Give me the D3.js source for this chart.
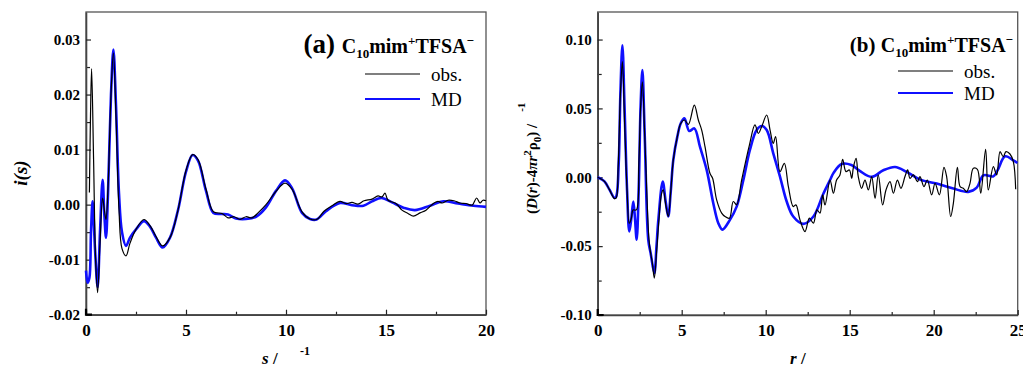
<!DOCTYPE html>
<html>
<head>
<meta charset="utf-8">
<script src="https://cdn.jsdelivr.net/npm/d3@7/dist/d3.min.js"></script>
<style>
  body { margin: 0; background: #fff; }
  svg { display: block; }
  .tick text { font-family: "Liberation Serif", "Times New Roman", serif; font-weight: bold; fill: #000; }
  .lbl { font-family: "Liberation Serif", "Times New Roman", serif; fill: #000; }
</style>
</head>
<body>
<div id="chart"></div>
<script>
// ---- panel (a): i(s) vs s ----
const obsA = [
  [0.17, 0.0022], [0.22, 0.015], [0.28, 0.0247], [0.38, 0.008], [0.48, -0.010], [0.58, -0.016],
  [0.70, -0.007], [0.83, 0.0012], [0.92, -0.001], [1.00, -0.0027], [1.10, 0.003], [1.25, 0.020],
  [1.37, 0.0276], [1.50, 0.016], [1.65, -0.001], [1.80, -0.008], [2.00, -0.0093], [2.20, -0.007],
  [2.50, -0.0045], [2.90, -0.0027], [3.20, -0.0038], [3.50, -0.0058], [3.83, -0.0075], [4.20, -0.006],
  [4.60, -0.001], [5.00, 0.0062], [5.33, 0.0091], [5.60, 0.0082], [6.00, 0.0028], [6.37, -0.0013],
  [6.80, -0.0016], [7.10, -0.0024], [7.40, -0.0022], [7.70, -0.0027], [8.00, -0.0022], [8.30, -0.0024],
  [8.60, -0.0015], [9.00, 0.0000], [9.50, 0.0024], [9.95, 0.0039], [10.30, 0.0028], [10.80, -0.0013],
  [11.20, -0.0026], [11.53, -0.0027], [11.90, -0.0012], [12.30, -0.0002], [12.70, 0.0006], [13.00, 0.0002],
  [13.30, 0.0004], [13.60, 0.0001], [13.90, 0.0007], [14.30, 0.0010], [14.60, 0.0016], [14.80, 0.0014],
  [14.95, 0.0021], [15.10, 0.0008], [15.50, 0.0002], [15.80, -0.0010], [16.10, -0.0016], [16.37, -0.0021],
  [16.70, -0.0015], [17.00, -0.0010], [17.40, 0.0003], [17.60, 0.0006], [17.80, 0.0003], [18.10, 0.0008],
  [18.40, 0.0007], [18.70, 0.0003], [19.00, 0.0002], [19.30, -0.0001], [19.53, 0.0012], [19.70, 0.0003],
  [19.85, 0.0008], [20.00, 0.0007]
];
const mdA = [
  [0.00, -0.012], [0.08, -0.0142], [0.17, -0.0133], [0.25, -0.005], [0.33, 0.0006], [0.45, -0.008],
  [0.58, -0.015], [0.70, -0.005], [0.83, 0.0045], [0.92, -0.002], [1.00, -0.006], [1.10, 0.002],
  [1.25, 0.020], [1.37, 0.0282], [1.50, 0.018], [1.65, 0.002], [1.80, -0.005], [2.00, -0.0075],
  [2.20, -0.006], [2.50, -0.0045], [2.90, -0.0030], [3.20, -0.0040], [3.50, -0.0060], [3.83, -0.0078],
  [4.20, -0.0060], [4.60, -0.0010], [5.00, 0.0060], [5.33, 0.0090], [5.60, 0.0080], [6.00, 0.0025],
  [6.37, -0.0015], [6.80, -0.0017], [7.10, -0.0018], [7.50, -0.0025], [8.00, -0.0026], [8.50, -0.0022],
  [9.00, -0.0005], [9.50, 0.0025], [9.95, 0.0044], [10.30, 0.0030], [10.80, -0.0015], [11.20, -0.0026],
  [11.53, -0.0027], [12.00, -0.0012], [12.70, 0.0003], [13.30, -0.0001], [13.87, -0.0002], [14.30, 0.0006],
  [14.78, 0.0012], [15.30, 0.0004], [15.90, -0.0006], [16.45, -0.0010], [17.20, -0.0002], [17.87, 0.0006],
  [18.60, 0.0002], [19.37, -0.0002], [20.00, -0.0004]
];
const xTicksA = [0, 5, 10, 15, 20];
const xMinorA = [2.5, 7.5, 12.5, 17.5];
const yTicksA = [-0.02, -0.01, 0.00, 0.01, 0.02, 0.03];
const yMinorA = [-0.015, -0.005, 0.005, 0.015, 0.025];

// ---- panel (b): D(r)-4*pi*r^2*rho0 vs r ----
const obsB = [
  [0.00, 0.000], [0.40, -0.003], [0.70, -0.009], [1.00, -0.0155], [1.10, -0.015], [1.22, 0.008],
  [1.35, 0.060], [1.47, 0.084], [1.60, 0.040], [1.75, -0.010], [1.88, -0.0334], [2.00, -0.030],
  [2.10, -0.0237], [2.30, -0.0237], [2.45, 0.010], [2.55, 0.050], [2.66, 0.0693], [2.80, 0.030],
  [2.95, -0.020], [3.05, -0.045], [3.15, -0.055], [3.25, -0.062], [3.37, -0.0732], [3.50, -0.055],
  [3.65, -0.030], [3.80, -0.012], [3.90, -0.0092], [4.05, -0.020], [4.20, -0.0285], [4.35, -0.010],
  [4.50, 0.0126], [4.74, 0.0295], [4.94, 0.039], [5.16, 0.0416], [5.40, 0.0384], [5.75, 0.0524],
  [5.99, 0.0416], [6.19, 0.0343], [6.39, 0.022], [6.68, 0.0029], [6.84, -0.0007], [7.08, -0.0164],
  [7.38, -0.026], [7.58, -0.0285], [7.84, -0.0297], [8.07, -0.0176], [8.27, -0.020], [8.57, -0.0019],
  [9.03, 0.0234], [9.36, 0.038], [9.56, 0.0319], [9.76, 0.0367], [10.06, 0.0452], [10.26, 0.0343],
  [10.45, 0.0246], [10.59, 0.0295], [10.85, 0.0041], [11.11, 0.0101], [11.35, -0.0068], [11.64, -0.0213],
  [11.80, -0.020], [12.04, -0.0309], [12.34, -0.0394], [12.60, -0.0297], [12.84, -0.0333], [13.05, -0.0237],
  [13.23, -0.026], [13.39, -0.0128], [13.53, -0.0201], [13.83, -0.002], [14.03, -0.0116], [14.22, -0.002],
  [14.42, 0.0017], [14.58, 0.013], [14.78, 0.0041], [14.98, 0.0053], [15.12, -0.0008], [15.22, 0.0072],
  [15.38, 0.0137], [15.51, 0.0005], [15.71, -0.008], [15.91, -0.002], [16.11, -0.0092], [16.31, 0.0005],
  [16.51, -0.0153], [16.70, 0.0017], [16.96, -0.0201], [17.16, -0.0092], [17.40, -0.0032], [17.60, -0.0116],
  [17.84, -0.002], [18.05, -0.008], [18.29, 0.0005], [18.45, 0.0053], [18.59, -0.0008], [18.79, 0.0017],
  [19.03, -0.0032], [19.18, 0.0005], [19.42, -0.0068], [19.62, -0.002], [19.88, -0.0128], [20.08, -0.0044],
  [20.34, -0.0128], [20.61, 0.0072], [20.77, 0.0005], [21.01, -0.0285], [21.17, -0.0189], [21.41, 0.0072],
  [21.57, -0.0068], [21.76, -0.008], [21.96, -0.0104], [22.16, -0.0044], [22.36, 0.0065], [22.60, 0.0058],
  [22.80, -0.0116], [23.09, 0.0203], [23.25, -0.0092], [23.55, 0.0077], [23.75, 0.0017], [23.95, 0.0186],
  [24.14, 0.0149], [24.30, 0.0186], [24.54, 0.0169], [24.74, 0.0113], [24.88, -0.0087]
];
const mdB = [
  [0.00, 0.000], [0.40, -0.003], [0.70, -0.009], [1.00, -0.015], [1.10, -0.014], [1.25, 0.010],
  [1.35, 0.060], [1.47, 0.0959], [1.60, 0.050], [1.75, -0.010], [1.88, -0.0394], [2.00, -0.030],
  [2.12, -0.0177], [2.22, -0.030], [2.32, -0.0454], [2.45, -0.005], [2.55, 0.050], [2.66, 0.0778],
  [2.80, 0.030], [3.01, -0.0454], [3.15, -0.055], [3.37, -0.0696], [3.50, -0.050], [3.61, -0.0309],
  [3.87, -0.0031], [4.05, -0.018], [4.20, -0.0285], [4.35, -0.010], [4.50, 0.0126], [4.74, 0.0295],
  [4.94, 0.039], [5.16, 0.0428], [5.45, 0.0336], [5.75, 0.0355], [6.09, 0.022], [6.49, 0.0052],
  [6.88, -0.0188], [7.18, -0.0333], [7.42, -0.038], [7.87, -0.0309], [8.27, -0.0213], [8.67, -0.0019],
  [9.06, 0.0198], [9.46, 0.0343], [9.76, 0.0372], [10.06, 0.0343], [10.45, 0.0174], [10.85, 0.0005],
  [11.25, -0.0176], [11.64, -0.0285], [12.24, -0.0338], [12.84, -0.0285], [13.43, -0.012], [13.83, -0.002],
  [14.03, 0.003], [14.52, 0.0096], [15.10, 0.0089], [15.60, 0.0046], [16.31, 0.0003], [17.00, 0.0051],
  [17.70, 0.0075], [18.39, 0.0039], [19.19, -0.0017], [20.18, -0.0046], [21.17, -0.0082], [22.06, -0.0106],
  [22.56, -0.0075], [22.96, 0.0014], [23.55, 0.0007], [23.80, 0.005], [24.25, 0.0152], [24.74, 0.0123],
  [24.98, 0.0104]
];
const xTicksB = [0, 5, 10, 15, 20, 25];
const xMinorB = [2.5, 7.5, 12.5, 17.5, 22.5];
const yTicksB = [-0.10, -0.05, 0.00, 0.05, 0.10];
const yMinorB = [-0.075, -0.025, 0.025, 0.075];

const legendNames = ['obs.', 'MD'];
const colors = { obs: '#000', md: '#1010ff' };

const svg = d3.select('#chart').append('svg')
  .attr('width', 1023)
  .attr('height', 368);

function drawPanel(p) {
  const x = d3.scaleLinear().domain(p.xDomain).range([p.left, p.right]);
  const y = d3.scaleLinear().domain(p.yDomain).range([p.bottom, p.top]);
  const g = svg.append('g');

  // frame
  g.append('rect')
    .attr('x', p.left).attr('y', p.top)
    .attr('width', p.right - p.left).attr('height', p.bottom - p.top)
    .attr('fill', 'none').attr('stroke', '#555').attr('stroke-width', 1.3);

  // minor ticks
  g.append('g').attr('transform', 'translate(0,' + p.bottom + ')')
    .call(d3.axisBottom(x).tickValues(p.xMinor).tickSize(-3).tickSizeOuter(0).tickFormat(''))
    .call(a => a.select('.domain').remove());
  g.append('g').attr('transform', 'translate(' + p.left + ',0)')
    .call(d3.axisLeft(y).tickValues(p.yMinor).tickSize(-4).tickSizeOuter(0).tickFormat(''))
    .call(a => a.select('.domain').remove());

  // major ticks
  const xa = g.append('g').attr('transform', 'translate(0,' + p.bottom + ')')
    .call(d3.axisBottom(x).tickValues(p.xTicks).tickSize(-5).tickSizeOuter(0).tickPadding(7).tickFormat(d => String(d)));
  xa.select('.domain').attr('stroke', '#444').attr('stroke-width', 1.6);
  xa.selectAll('.tick text').attr('font-size', 17).attr('dy', '0.85em');

  const ya = g.append('g').attr('transform', 'translate(' + p.left + ',0)')
    .call(d3.axisLeft(y).tickValues(p.yTicks).tickSize(-5).tickSizeOuter(0).tickPadding(6).tickFormat(d => d.toFixed(2)));
  ya.select('.domain').attr('stroke', '#444').attr('stroke-width', 1.6);
  ya.selectAll('.tick text').attr('font-size', 15);
  svg.selectAll('.tick line').attr('stroke', '#222').attr('stroke-width', 1.2);

  // corner mark
  g.append('path')
    .attr('d', 'M' + (p.left) + ',' + (p.bottom - 6) + 'V' + p.bottom + 'H' + (p.left + 6))
    .attr('fill', 'none').attr('stroke', '#000').attr('stroke-width', 2.2);

  const line = d3.line()
    .x(d => x(d[0])).y(d => y(d[1]))
    .curve(d3.curveCatmullRom.alpha(0.5));

  g.append('path').datum(p.md)
    .attr('d', line).attr('fill', 'none')
    .attr('stroke', colors.md).attr('stroke-width', 2.6);
  g.append('path').datum(p.obs)
    .attr('d', line).attr('fill', 'none')
    .attr('stroke', colors.obs).attr('stroke-width', 1.2);

  // title
  const t = g.append('text').attr('class', 'lbl')
    .attr('x', p.titleX).attr('y', p.titleY)
    .attr('text-anchor', 'end').attr('font-weight', 'bold').attr('font-size', 20);
  t.append('tspan').attr('font-size', p.tagSize).text(p.tag + ' ');
  t.append('tspan').text('C');
  t.append('tspan').attr('font-size', 13).attr('dy', 5).text('10');
  t.append('tspan').attr('dy', -5).text('mim');
  t.append('tspan').attr('font-size', 13).attr('dy', -8).text('+');
  t.append('tspan').attr('dy', 8).text('TFSA');
  t.append('tspan').attr('font-size', 13).attr('dy', -8).text('\u2212');

  // legend
  const lg = [p.obsLegendY, p.mdLegendY];
  [colors.obs, colors.md].forEach((c, i) => {
    g.append('line')
      .attr('x1', p.legX).attr('x2', p.legX + 55)
      .attr('y1', lg[i]).attr('y2', lg[i])
      .attr('stroke', c).attr('stroke-width', i ? 2.2 : 1.2);
    g.append('text').attr('class', 'lbl')
      .attr('x', p.legX + 66).attr('y', lg[i] + 6.5)
      .attr('font-size', 19).text(legendNames[i]);
  });
}

drawPanel({
  xDomain: [0, 20], yDomain: [-0.02, 0.035],
  left: 86, right: 486, top: 12, bottom: 314.7,
  xTicks: xTicksA, xMinor: xMinorA, yTicks: yTicksA, yMinor: yMinorA,
  obs: obsA, md: mdA,
  tag: '(a)', tagSize: 27, titleX: 474, titleY: 53,
  legX: 365, obsLegendY: 74, mdLegendY: 99
});

drawPanel({
  xDomain: [0, 25], yDomain: [-0.10, 0.12],
  left: 597.7, right: 1017.7, top: 12, bottom: 315,
  xTicks: xTicksB, xMinor: xMinorB, yTicks: yTicksB, yMinor: yMinorB,
  obs: obsB, md: mdB,
  tag: '(b)', tagSize: 21, titleX: 1013, titleY: 52,
  legX: 898, obsLegendY: 71, mdLegendY: 93
});

// axis titles (the Angstrom glyph is missing in the original, leaving a gap)
const xt1 = svg.append('text').attr('class', 'lbl')
  .attr('x', 262).attr('y', 364).attr('font-size', 17).attr('font-weight', 'bold').attr('font-style', 'italic');
xt1.append('tspan').text('s');
xt1.append('tspan').attr('font-style', 'normal').text(' /');
xt1.append('tspan').attr('x', 300).attr('dy', -9).attr('font-size', 12).attr('font-style', 'normal').text('-1');

svg.append('text').attr('class', 'lbl')
  .attr('x', 790).attr('y', 364).attr('font-size', 17).attr('font-weight', 'bold')
  .call(t => {
    t.append('tspan').attr('font-style', 'italic').text('r');
    t.append('tspan').text(' /');
  });

svg.append('text').attr('class', 'lbl')
  .attr('transform', 'translate(27,173) rotate(-90)')
  .attr('text-anchor', 'middle').attr('font-size', 19)
  .attr('font-weight', 'bold').attr('font-style', 'italic')
  .text('i(s)');

const yt2 = svg.append('text').attr('class', 'lbl')
  .attr('transform', 'translate(537,214) rotate(-90)')
  .attr('font-size', 15).attr('font-weight', 'bold');
yt2.append('tspan').text('(');
yt2.append('tspan').attr('font-style', 'italic').text('D');
yt2.append('tspan').text('(');
yt2.append('tspan').attr('font-style', 'italic').text('r');
yt2.append('tspan').text(')-4');
yt2.append('tspan').attr('font-style', 'italic').text('\u03c0r');
yt2.append('tspan').attr('font-size', 11).attr('dy', -6).text('2');
yt2.append('tspan').attr('dy', 6).text('\u03c1');
yt2.append('tspan').attr('font-size', 11).attr('dy', 4).text('0');
yt2.append('tspan').attr('dy', -4).text(') /');
yt2.append('tspan').attr('font-size', 11).attr('dx', 12).attr('dy', -12).text('-1');
</script>
</body>
</html>
